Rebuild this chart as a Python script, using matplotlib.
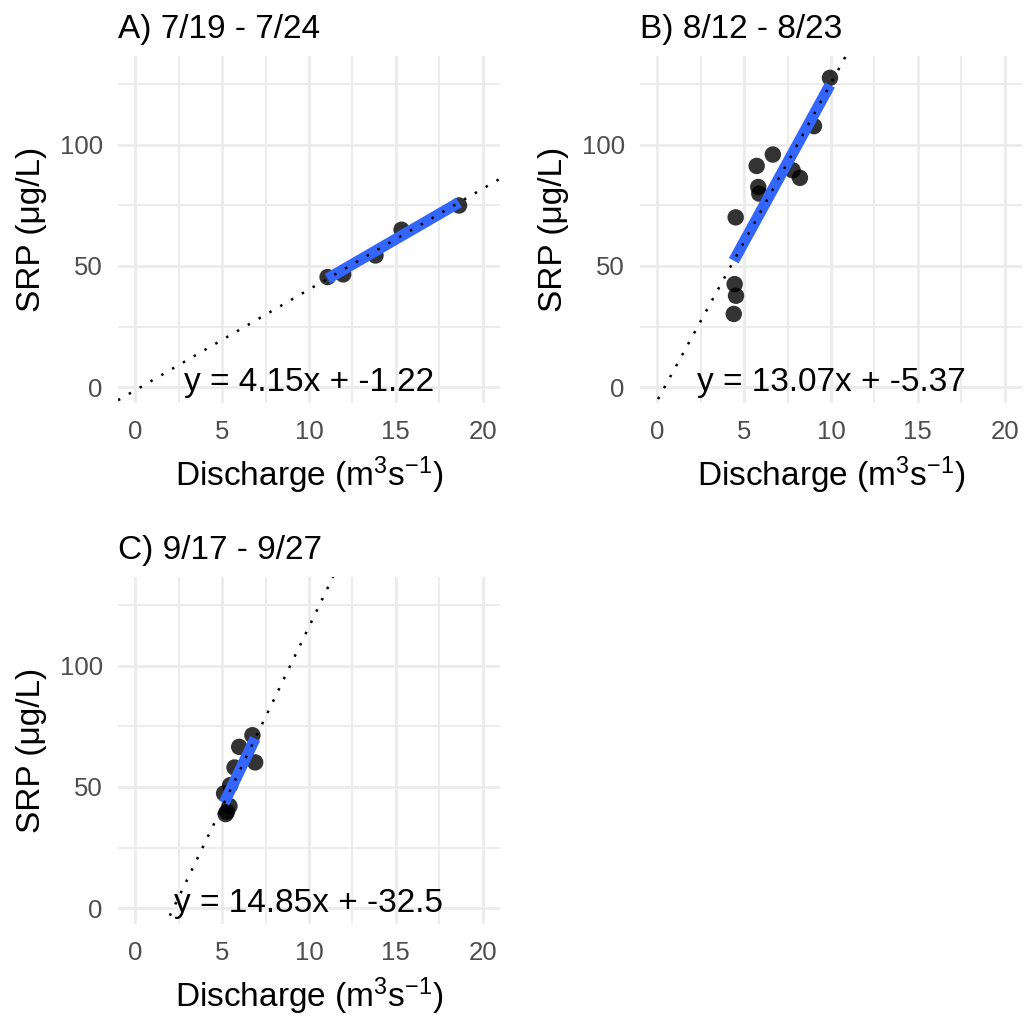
import numpy as np
import matplotlib
matplotlib.use("Agg")
import matplotlib.pyplot as plt
from matplotlib.ticker import MultipleLocator

plt.rcParams['font.family'] = ['Liberation Sans', 'DejaVu Sans']
plt.rcParams['mathtext.default'] = 'regular'

# ---- data ----
titles = ["A) 7/19 - 7/24", "B) 8/12 - 8/23", "C) 9/17 - 9/27"]

a_x = [11.07, 11.97, 13.83, 15.33, 18.64]
a_y = [45.4, 46.5, 54.3, 64.9, 74.9]

b_x = [9.94, 9.02, 6.65, 5.72, 7.79, 8.21, 5.81, 5.87, 4.51, 4.45, 4.53, 4.40]
b_y = [127.5, 107.6, 95.9, 91.2, 89.4, 86.3, 82.5, 79.8, 70.0, 42.5, 37.7, 30.2]

c_x = [6.74, 5.98, 6.90, 5.71, 5.46, 5.11, 5.42, 5.28, 5.20]
c_y = [71.3, 66.5, 60.1, 58.0, 50.7, 47.3, 42.1, 39.8, 38.8]

slopes = [4.15, 13.07, 14.85]
intercepts = [-1.22, -5.37, -32.5]
eq_labels = ["y = 4.15x + -1.22", "y = 13.07x + -5.37", "y = 14.85x + -32.5"]

xs = [a_x, b_x, c_x]
ys = [a_y, b_y, c_y]

W, H = 1025, 1016
fig = plt.figure(figsize=(W / 100, H / 100), dpi=100)

def rect(l, t, r, b):
    return [l / W, 1 - b / H, (r - l) / W, (b - t) / H]

rects = [rect(118, 56, 500, 403), rect(640, 56, 1022, 403), rect(118, 577, 500, 924)]

xlim = (-1, 21)
ylim = (-6.5, 136.5)

for i in range(3):
    ax = fig.add_axes(rects[i])
    ax.set_xlim(*xlim)
    ax.set_ylim(*ylim)
    for s in ax.spines.values():
        s.set_visible(False)
    ax.xaxis.set_major_locator(MultipleLocator(5))
    ax.xaxis.set_minor_locator(MultipleLocator(2.5))
    ax.yaxis.set_major_locator(MultipleLocator(50))
    ax.yaxis.set_minor_locator(MultipleLocator(25))
    ax.grid(which='major', color='#EBEBEB', lw=2.0)
    ax.grid(which='minor', color='#EBEBEB', lw=1.3)
    ax.set_axisbelow(True)
    ax.tick_params(which='both', length=0)
    ax.tick_params(axis='both', labelsize=18.5, labelcolor='#4D4D4D')
    ax.tick_params(axis='y', pad=11)
    ax.tick_params(axis='x', pad=12)

    x = np.array(xs[i])
    y = np.array(ys[i])
    ax.scatter(x, y, s=140, color='black', alpha=0.8, edgecolors='none', zorder=3)

    m, c = slopes[i], intercepts[i]
    seg = np.array([x.min(), x.max()])
    ax.plot(seg, m * seg + c, color='#3366FF', lw=8, solid_capstyle='butt', zorder=4)
    full = np.array(xlim)
    ax.plot(full, m * full + c, color='black', lw=1.8, linestyle=(0, (1, 4)), zorder=5)

    ax.text(10, 2, eq_labels[i], ha='center', va='center', fontsize=24, color='black', zorder=6)

    ax.set_xlabel('Discharge (m$^3$s$^{-1}$)', fontsize=24, labelpad=8)
    ax.set_ylabel('SRP (μg/L)', fontsize=24, labelpad=9)
    ax.set_title(titles[i], loc='left', fontsize=24, pad=13)

fig.savefig('out.png', dpi=100, facecolor='white')
